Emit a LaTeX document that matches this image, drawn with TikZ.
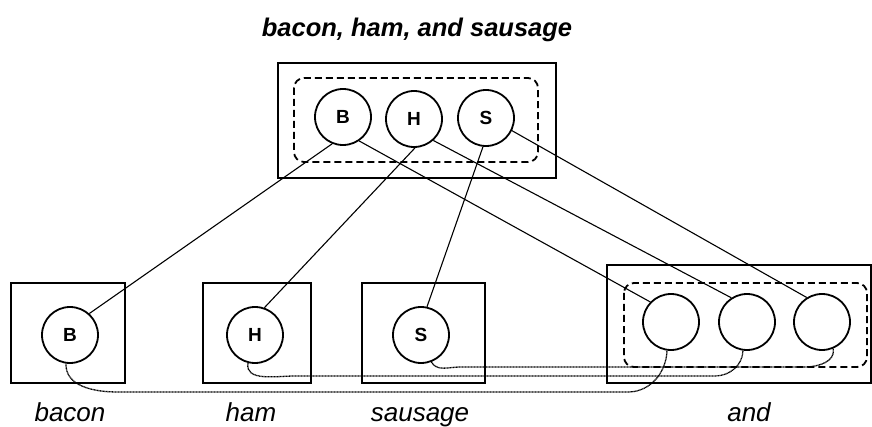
\documentclass[tikz,border=0pt]{standalone}
\usepackage{fontspec}
\setmainfont{Liberation Sans}
\begin{document}
\begin{tikzpicture}[x=1pt,y=-1pt,
  frame/.style={draw,line width=2pt},
  group/.style={draw,line width=1.8pt,dash pattern=on 7pt off 4pt,rounded corners=10pt},
  item/.style={draw,circle,line width=1.8pt,minimum size=56pt,inner sep=0pt,font=\fontsize{19}{21}\selectfont\bfseries},
  link/.style={line width=1.1pt},
  tie/.style={line width=1.3pt,dash pattern=on 1pt off 0.5pt},
  caption/.style={font=\fontsize{26}{28}\selectfont\itshape,anchor=base}]
\useasboundingbox (0,0) rectangle (872,427);

% title
\node[caption,font=\fontsize{25.5}{28}\selectfont\bfseries\itshape] (title) at (417,37) {bacon, ham, and sausage};

% combined phrase on top
\draw[frame] (278,63) rectangle (556,178);
\draw[group] (294,78) rectangle (538,162);
\node[item] (tB) at (343,117) {B};
\node[item] (tH) at (414,119) {H};
\node[item] (tS) at (486,118) {S};

% single words
\draw[frame] (11,283) rectangle (125,383);
\draw[frame] (203,283) rectangle (311,383);
\draw[frame] (362,283) rectangle (485,383);
\node[item] (bB) at (70,335) {B};
\node[item] (bH) at (255,335) {H};
\node[item] (bS) at (421,335) {S};

% conjunction with three empty slots
\draw[frame] (607,265) rectangle (871,383);
\draw[group] (624,283) rectangle (867,367);
\node[item] (a1) at (671,322) {};
\node[item] (a2) at (747,322) {};
\node[item] (a3) at (822,322) {};

% captions
\node[caption] (lb) at (70,421) {bacon};
\node[caption] (lh) at (251,421) {ham};
\node[caption] (ls) at (420,421) {sausage};
\node[caption] (la) at (749,421) {and};

% solid links from the phrase
\draw[link] (tB.248) -- (bB.48);
\draw[link] (tB.-56) -- (a1.136);
\draw[link] (tH.-88) -- (bH.71);
\draw[link] (tH.-48) -- (a2.123);
\draw[link] (tS.-96) -- (bS.78);
\draw[link] (tS.-26) -- (a3.122);

% dotted ties from the words to the slots
\draw[tie] (bB.-98) to[out=-92,in=180] (118,392) -- (628,392) to[out=0,in=-92] (a1.-98);
\draw[tie] (bH.-104) to[out=-100,in=180] (295,376) -- (715,376) to[out=0,in=-92] (a2.-98);
\draw[tie] (bS.-69) to[out=-60,in=180] (460,367) -- (805,367) to[out=0,in=-80] (a3.-67);
\end{tikzpicture}
\end{document}
